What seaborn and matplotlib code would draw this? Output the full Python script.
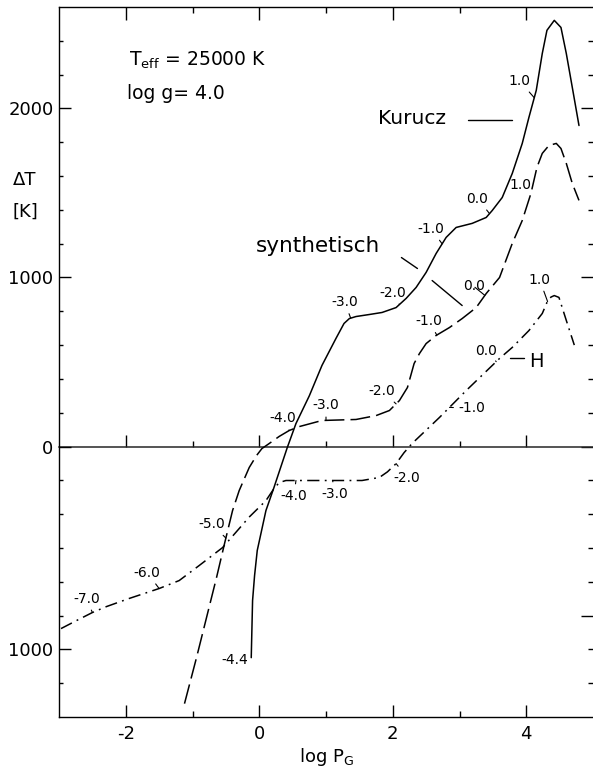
import numpy as np
import pandas as pd
import matplotlib
matplotlib.use("Agg")
import matplotlib.pyplot as plt
import seaborn as sns

# ---------------- data ----------------
kurucz_x = [-0.12, -0.10, -0.07, -0.03, 0.10, 0.22, 0.42, 0.55, 0.75, 0.94, 1.15, 1.27,
            1.35, 1.45, 1.65, 1.84, 2.05, 2.20, 2.35, 2.50, 2.65, 2.80, 2.95, 3.19,
            3.40, 3.49, 3.64, 3.79, 3.94, 4.04, 4.15, 4.24, 4.31, 4.42, 4.52, 4.60,
            4.69, 4.79]
kurucz_y = [-1249, -911, -763, -615, -379, -243, -6, 136, 300, 480, 640, 728,
            757, 769, 781, 793, 822, 876, 941, 1030, 1142, 1237, 1296, 1320,
            1355, 1396, 1473, 1615, 1793, 1947, 2107, 2325, 2462, 2521, 2479, 2325,
            2124, 1899]

synth_x = [-1.12, -0.94, -0.79, -0.64, -0.52, -0.40, -0.30, -0.15, -0.04, 0.04, 0.15, 0.30,
           0.45, 0.60, 0.94, 1.45, 1.75, 1.95, 2.10, 2.22, 2.32, 2.40, 2.50, 2.65,
           2.85, 3.04, 3.25, 3.40, 3.60, 3.79, 3.94, 4.07, 4.16, 4.24, 4.34, 4.45,
           4.52, 4.60, 4.69, 4.79]
synth_y = [-1521, -1249, -1012, -775, -574, -379, -260, -124, -53, -12, 18, 60,
           95, 118, 154, 160, 183, 213, 272, 349, 491, 550, 609, 657,
           704, 757, 822, 905, 1000, 1201, 1337, 1497, 1651, 1734, 1781, 1793,
           1763, 1675, 1556, 1456]

h_x = [-2.97, -2.74, -2.50, -2.29, -1.95, -1.50, -1.20, -0.90, -0.55, -0.30, -0.15,
       0.10, 0.22, 0.30, 0.40, 0.60, 0.94, 1.54, 1.80, 1.92, 2.05, 2.17, 2.29,
       2.70, 3.10, 3.60, 3.79, 4.04, 4.24, 4.31, 4.37, 4.42, 4.49, 4.60, 4.72]
h_y = [-1077, -1030, -982, -947, -899, -840, -793, -704, -598, -485, -417,
       -320, -249, -213, -201, -201, -201, -201, -183, -150, -101, -36, 18,
       172, 331, 521, 586, 686, 787, 852, 884, 893, 882, 746, 600]

# log tau labels along the curves: text, position on curve, text offset (px), tick shown
k_tau = ["1.0", "0.0", "-1.0", "-2.0", "-3.0", "-4.4"]
k_tau_x = [4.12, 3.45, 2.74, 2.10, 1.37, -0.12]
k_tau_off = [(-15, 17), (-12, 15), (-11, 15), (-7, 12), (-6, 16), (-16, -2)]
k_tau_tick = [True, True, True, True, True, False]

s_tau = ["1.0", "0.0", "-1.0", "-2.0", "-3.0", "-4.0", "-5.0"]
s_tau_x = [4.10, 3.38, 2.66, 2.05, 1.00, 0.45, -0.50]
s_tau_off = [(-12, 0), (-11, 9), (-8, 14), (-14, 13), (0, 15), (-7, 12), (-14, 14)]
s_tau_tick = [False, True, True, True, True, True, True]

h_tau = ["1.0", "0.0", "-1.0", "-2.0", "-3.0", "-4.0", "-6.0", "-7.0"]
h_tau_x = [4.32, 3.55, 2.85, 2.05, 1.10, 0.55, -1.50, -2.50]
h_tau_off = [(-8, 22), (-10, 11), (22, -1), (11, -14), (2, -13), (-2, -15), (-12, 16), (-6, 14)]
h_tau_tick = [True] * 8

# curve names and their pointer lines
names = ["Kurucz", "synthetisch", "H"]
names_xy = [(2.29, 1941), (0.88, 1189), (4.15, 503)]
names_size = [14.5, 15.5, 14]
pointers = [([3.12, 3.78], [1929, 1929]),
            ([2.13, 2.37], [1118, 1053]),
            ([2.59, 3.04], [982, 834]),
            ([3.75, 3.97], [521, 521])]

left_major = [-1200, 0, 1000, 2000]
left_major_labels = ["1000", "0", "1000", "2000"]
right_major = [-1000, 0, 1000, 2000]
x_major = [-2, 0, 2, 4]
x_major_labels = ["-2", "0", "2", "4"]

# ---------------- figure ----------------
sns.set_theme(style="ticks")
plt.rcParams["font.family"] = ["DejaVu Sans"]
plt.rcParams["axes.unicode_minus"] = False
plt.rcParams["mathtext.default"] = "regular"
plt.rcParams["text.color"] = "black"
plt.rcParams["axes.labelcolor"] = "black"
plt.rcParams["xtick.color"] = "black"
plt.rcParams["ytick.color"] = "black"

fig = plt.figure(figsize=(5.93, 7.75), dpi=100, facecolor="white")
ax = fig.add_axes([59 / 593, 58 / 775, 1 - 59 / 593, (717 - 7) / 775])
ax.set_facecolor("white")

lw = 1.1
sns.lineplot(x=kurucz_x, y=kurucz_y, ax=ax, color="black", lw=lw, sort=False, estimator=None)
sns.lineplot(x=synth_x, y=synth_y, ax=ax, color="black", lw=lw, sort=False, estimator=None,
             linestyle=(0, (13, 4)))
sns.lineplot(x=h_x, y=h_y, ax=ax, color="black", lw=lw, sort=False, estimator=None,
             linestyle=(0, (8, 3.5, 1.2, 3.5)))

ax.set_xlim(-3, 5)
ax.set_ylim(-1600, 2600)

def tau_labels(cx, cy, labels, xs, offs, ticks):
    for lab, xv, (dx, dy), tk in zip(labels, xs, offs, ticks):
        yv = float(np.interp(xv, cx, cy))
        kw = {}
        if tk:
            kw["arrowprops"] = dict(arrowstyle="-", lw=0.8, color="black", shrinkA=1, shrinkB=0)
        ax.annotate(lab, xy=(xv, yv), xytext=(dx, dy), textcoords="offset pixels",
                    ha="center", va="center", fontsize=10, color="black", **kw)

tau_labels(kurucz_x, kurucz_y, k_tau, k_tau_x, k_tau_off, k_tau_tick)
tau_labels(synth_x, synth_y, s_tau, s_tau_x, s_tau_off, s_tau_tick)
tau_labels(h_x, h_y, h_tau, h_tau_x, h_tau_off, h_tau_tick)

for nm, (nx, ny), fs in zip(names, names_xy, names_size):
    ax.text(nx, ny, nm, ha="center", va="center", fontsize=fs, color="black")
for px, py in pointers:
    ax.plot(px, py, color="black", lw=1.0)

ax.text(-1.95, 2284, r"T$_{eff}$ = 25000 K", ha="left", va="center", fontsize=13.5)
ax.text(-1.98, 2089, "log g= 4.0", ha="left", va="center", fontsize=13.5)

# spines / ticks
ax.spines["right"].set_visible(False)
for s in ["left", "top", "bottom"]:
    ax.spines[s].set_linewidth(1.0)
    ax.spines[s].set_color("black")

ax.set_xticks(x_major)
ax.set_xticklabels(x_major_labels)
ax.set_xticks([-1, 1, 3], minor=True)
ax.set_yticks(left_major)
ax.set_yticklabels(left_major_labels)
ax.set_yticks(np.arange(-1400, 2600, 200), minor=True)
ax.tick_params(axis="x", which="major", direction="in", length=9, width=1.0, top=True,
               labelsize=13, pad=6, colors="black")
ax.tick_params(axis="x", which="minor", direction="in", length=4, width=1.0, top=True)
ax.tick_params(axis="y", which="major", direction="in", length=8.5, width=1.0, right=False,
               labelsize=13, pad=4, colors="black")
ax.tick_params(axis="y", which="minor", direction="in", length=3, width=1.0, right=False)

# right-hand ticks
ry = ax.secondary_yaxis("right")
ry.set_yticks(right_major)
ry.set_yticks(np.arange(-1400, 2600, 200), minor=True)
ry.tick_params(which="major", direction="in", length=8.5, width=1.0, labelright=False)
ry.tick_params(which="minor", direction="in", length=3.5, width=1.0)
ry.spines["right"].set_visible(False)

# zero line with upward ticks
zx = ax.secondary_xaxis(1600 / 4200)
zx.set_xticks(x_major)
zx.set_xticks([-1, 1, 3], minor=True)
zx.tick_params(which="major", direction="in", length=8.5, width=1.0, labelbottom=False,
               labeltop=False)
zx.tick_params(which="minor", direction="in", length=4, width=1.0)
zx.spines["bottom"].set_linewidth(1.1)

ax.set_xlabel(r"log P$_G$", fontsize=13, labelpad=2, color="black")
fig.text(25 / 593, 1 - 180 / 775, "ΔT", ha="center", va="center", fontsize=13)
fig.text(25 / 593, 1 - 212 / 775, "[K]", ha="center", va="center", fontsize=13)

fig.savefig("out.png", dpi=100, facecolor="white")
